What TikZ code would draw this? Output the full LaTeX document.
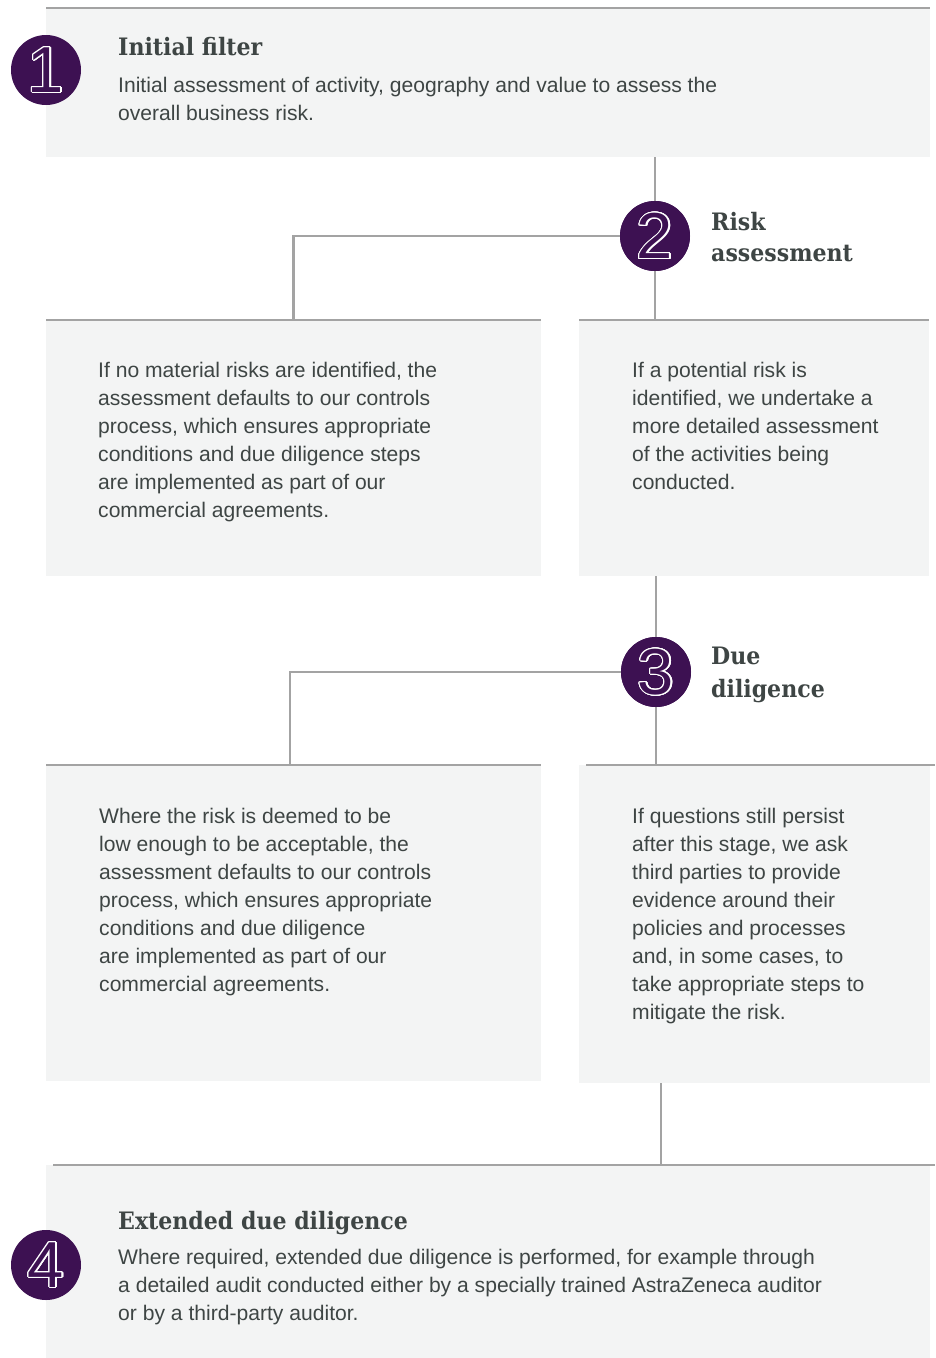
\documentclass[tikz,border=0pt]{standalone}
\usepackage{fontspec}
\setmainfont{Liberation Sans}
\newfontfamily\titlefont{DejaVu Serif}[FakeStretch=0.92]
\newfontfamily\digitfont{Liberation Sans}
\usetikzlibrary{calc}
\definecolor{azpurple}{RGB}{61,17,82}
\definecolor{boxfill}{RGB}{243,244,244}
\definecolor{linegray}{RGB}{163,163,163}
\definecolor{textc}{RGB}{62,69,68}
\tikzset{
  fillbox/.style={rectangle, fill=boxfill, draw=none, inner sep=0pt, anchor=north west},
  gline/.style={draw=linegray, line width=2.5pt},
  circ/.style={circle, fill=azpurple, draw=none, minimum size=70pt, inner sep=0pt},
  digitn/.style={inner sep=0pt, font=\digitfont\fontsize{65}{65}\selectfont},
  bodytext/.style={anchor=north west, inner sep=0pt, align=left, text=textc,
    font=\fontsize{21.1}{28}\selectfont},
  titletext/.style={inner sep=0pt, align=left, text=textc,
    font=\titlefont\bfseries\fontsize{24}{31}\selectfont},
}
\newcommand\stepcircle[3]{%
  \node[circ] (#1) at (#2) {};
  \foreach \a in {0,15,...,345} {\node[digitn, text=white] (#1d\a) at ($(#1)+(\a:1.2)$) {#3};}
  \node[digitn, text=azpurple] (#1d) at (#1) {#3};
}
\begin{document}
\begin{tikzpicture}[x=1pt,y=-1pt]
\useasboundingbox (0,0) rectangle (935,1358);
% boxes
\node[fillbox, minimum width=884pt, minimum height=149pt] (b1) at (46,8) {};
\node[fillbox, minimum width=495pt, minimum height=256pt] (b2a) at (46,320) {};
\node[fillbox, minimum width=350pt, minimum height=256pt] (b2b) at (579,320) {};
\node[fillbox, minimum width=495pt, minimum height=316pt] (b3a) at (46,765) {};
\node[fillbox, minimum width=351pt, minimum height=318pt] (b3b) at (579,765) {};
\node[fillbox, minimum width=884pt, minimum height=193pt] (b4) at (46,1165) {};
% top rules
\draw[gline] (b1.north west) -- (b1.north east);
\draw[gline] (b2a.north west) -- (b2a.north east);
\draw[gline] (b2b.north west) -- (b2b.north east);
\draw[gline] (b3a.north west) -- (b3a.north east);
\draw[gline] ([xshift=7pt]b3b.north west) -- ([xshift=5pt]b3b.north east);
\draw[gline] ([xshift=7pt]b4.north west) -- ([xshift=5pt]b4.north east);
% circles positions
\coordinate (p1) at (46,70);
\coordinate (p2) at (655,236);
\coordinate (p3) at (656,672);
\coordinate (p4) at (46,1265);
\node[circ] (c2) at (p2) {};
\node[circ] (c3) at (p3) {};
% connectors
\draw[gline] (c2 |- b1.south) -- (c2.north);
\draw[gline] (c2.south) -- (c2 |- b2b.north);
\draw[gline] (c2.west) -| (b2a.north);
\draw[gline] (c3 |- b2b.south) -- (c3.north);
\draw[gline] (c3.south) -- (c3 |- b3b.north);
\draw[gline] (c3.west) -| ([xshift=-3.5pt]b3a.north);
\coordinate (j3) at ([xshift=82pt]b3b.south west);
\draw[gline] (j3) -- (j3 |- b4.north);
% numbered circles
\stepcircle{n1}{p1}{1}
\stepcircle{n2}{p2}{2}
\stepcircle{n3}{p3}{3}
\stepcircle{n4}{p4}{4}
% titles
\node[titletext, anchor=base west] (t1) at (118,55) {Initial filter};
\node[titletext, anchor=north west] (t2) at (711,208.3) {\strut Risk\\assessment};
\node[titletext, anchor=north west, font=\titlefont\bfseries\fontsize{24}{33}\selectfont] (t3) at (711,641) {\strut Due\\diligence};
\node[titletext, anchor=base west] (t4) at (118,1229) {Extended due diligence};
% body texts
\node[bodytext] (x1) at (118,73) {\strut Initial assessment of activity, geography and value to assess the\\overall business risk.};
\node[bodytext] (x2a) at (98,358) {\strut If no material risks are identified, the\\assessment defaults to our controls\\process, which ensures appropriate\\conditions and due diligence steps\\are implemented as part of our\\commercial agreements.};
\node[bodytext] (x2b) at (632,358) {\strut If a potential risk is\\identified, we undertake a\\more detailed assessment\\of the activities being\\conducted.};
\node[bodytext] (x3a) at (99,804) {\strut Where the risk is deemed to be\\low enough to be acceptable, the\\assessment defaults to our controls\\process, which ensures appropriate\\conditions and due diligence\\are implemented as part of our\\commercial agreements.};
\node[bodytext] (x3b) at (632,804) {\strut If questions still persist\\after this stage, we ask\\third parties to provide\\evidence around their\\policies and processes\\and, in some cases, to\\take appropriate steps to\\mitigate the risk.};
\node[bodytext] (x4) at (118,1245) {\strut Where required, extended due diligence is performed, for example through\\a detailed audit conducted either by a specially trained AstraZeneca auditor\\or by a third-party auditor.};
\end{tikzpicture}
\end{document}
